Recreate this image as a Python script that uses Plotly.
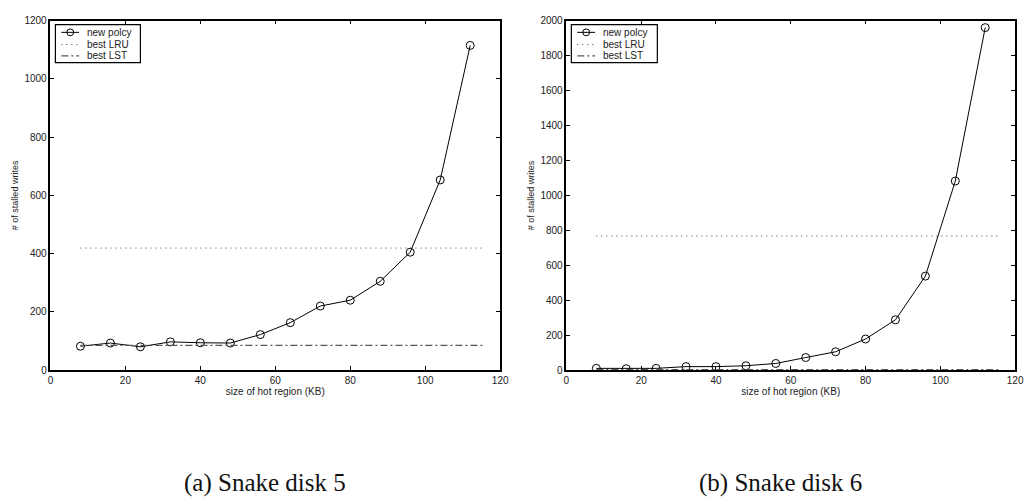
import plotly.graph_objects as go
from plotly.subplots import make_subplots

sizes = [8, 16, 24, 32, 40, 48, 56, 64, 72, 80, 88, 96, 104, 112]
new_policy_d5 = [82, 93, 80, 97, 94, 93, 122, 163, 220, 240, 305, 405, 653, 1115]
new_policy_d6 = [10, 8, 10, 20, 20, 25, 38, 72, 105, 178, 288, 538, 1082, 1960]
ref_x = [8, 116]
best_lru_d5 = [419, 419]
best_lst_d5 = [85, 85]
best_lru_d6 = [767, 767]
best_lst_d6 = [3, 3]
series_names = ["new polcy", "best LRU", "best LST"]
captions = ["(a) Snake disk 5", "(b) Snake disk 6"]

W, H = 1036, 504
fig = make_subplots(rows=1, cols=2)

tickfont = dict(family="Liberation Sans, Arial, sans-serif", size=10, color="#222")
LRU_DASH = "1px,4px"
LST_DASH = "7px,3px,2px,3px"

def add_panel(col, newp, lru, lst):
    fig.add_trace(go.Scatter(x=sizes, y=newp, mode="lines+markers", name=series_names[0],
                             line=dict(color="black", width=1),
                             marker=dict(symbol="circle-open", size=8, color="black", line=dict(width=1))),
                  row=1, col=col)
    fig.add_trace(go.Scatter(x=ref_x, y=lru, mode="lines", name=series_names[1],
                             line=dict(color="#444", width=1, dash=LRU_DASH)), row=1, col=col)
    fig.add_trace(go.Scatter(x=ref_x, y=lst, mode="lines", name=series_names[2],
                             line=dict(color="#555", width=1.3, dash=LST_DASH)), row=1, col=col)

add_panel(1, new_policy_d5, best_lru_d5, best_lst_d5)
add_panel(2, new_policy_d6, best_lru_d6, best_lst_d6)

ydom = [1 - 373 / H, 1 - 15 / H]
axis_common = dict(showline=True, linecolor="black", linewidth=1.5, mirror="ticks",
                   ticks="inside", ticklen=4, tickcolor="black", showgrid=False,
                   zeroline=False, tickfont=tickfont)

fig.update_xaxes(axis_common)
fig.update_yaxes(axis_common)
fig.update_layout(
    xaxis=dict(domain=[48 / W, 503 / W], range=[0, 120], dtick=20,
               title=dict(text="size of hot region (KB)", font=tickfont, standoff=2)),
    xaxis2=dict(domain=[570 / W, 1024 / W], range=[0, 120], dtick=20,
                title=dict(text="size of hot region (KB)", font=tickfont, standoff=2)),
    yaxis=dict(domain=ydom, range=[0, 1200], dtick=200,
               title=dict(text="# of stalled writes", font=dict(tickfont, size=9), standoff=4)),
    yaxis2=dict(domain=ydom, range=[0, 2000], dtick=200,
                title=dict(text="# of stalled writes", font=dict(tickfont, size=9), standoff=4)),
    width=W, height=H,
    margin=dict(l=0, r=0, t=0, b=0),
    paper_bgcolor="white", plot_bgcolor="white",
    showlegend=False,
)

# custom compact legends (MATLAB-style boxes)
def px(x):
    return x / W

def py(y):
    return 1 - y / H

def draw_legend(left, right, sample_l, sample_r, text_x):
    top, bottom = 19, 58
    fig.add_shape(type="rect", xref="paper", yref="paper",
                  x0=px(left), x1=px(right), y0=py(bottom), y1=py(top),
                  line=dict(color="black", width=1.2), fillcolor="white", layer="above")
    rows_y = [27, 39.5, 51]
    styles = [dict(color="black", width=1), dict(color="#444", width=1, dash=LRU_DASH),
              dict(color="#555", width=1.3, dash=LST_DASH)]
    for name, yy, st in zip(series_names, rows_y, styles):
        fig.add_shape(type="line", xref="paper", yref="paper",
                      x0=px(sample_l), x1=px(sample_r), y0=py(yy), y1=py(yy),
                      line=st, layer="above")
        fig.add_annotation(x=px(text_x), y=py(yy), xref="paper", yref="paper",
                           text=name, showarrow=False, xanchor="left", yanchor="middle",
                           font=dict(family="Liberation Sans, Arial, sans-serif", size=10, color="#222"))
    cx = (sample_l + sample_r) / 2
    fig.add_shape(type="circle", xref="paper", yref="paper",
                  x0=px(cx - 3.5), x1=px(cx + 3.5), y0=py(rows_y[0] + 3.5), y1=py(rows_y[0] - 3.5),
                  line=dict(color="black", width=1), fillcolor="rgba(0,0,0,0)", layer="above")

draw_legend(53, 139, 59, 77, 83)
draw_legend(575, 662, 581, 599, 605)

for cx, text in zip([265 / W, 787 / W], captions):
    fig.add_annotation(x=cx, y=py(489), xref="paper", yref="paper",
                       text=text, showarrow=False, xanchor="center", yanchor="middle",
                       font=dict(family="Liberation Serif, DejaVu Serif, serif", size=25, color="#111"))

fig.write_html("out.html")
